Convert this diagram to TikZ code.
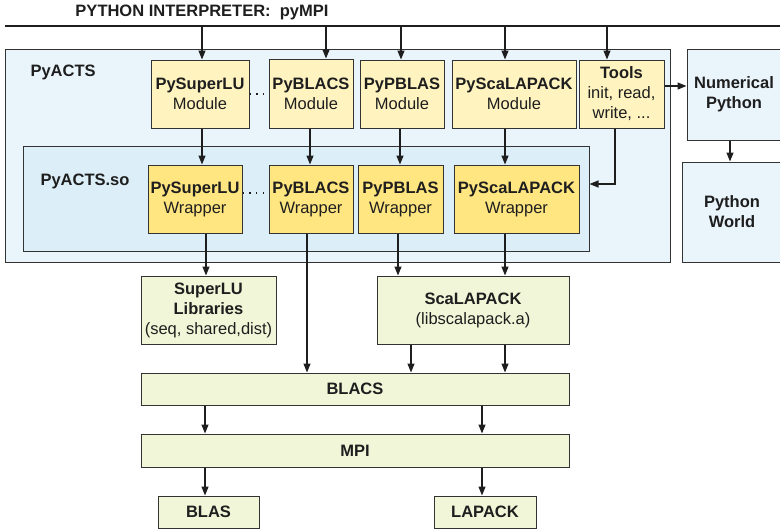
\documentclass[tikz,border=0pt]{standalone}
\usepackage{fontspec}
\setmainfont{Liberation Sans}
\usetikzlibrary{arrows.meta}
\definecolor{outerblue}{HTML}{EAF5FB}
\definecolor{innerblue}{HTML}{DCEFF8}
\definecolor{modfill}{HTML}{FFF4C0}
\definecolor{wrapfill}{HTML}{FFE680}
\definecolor{libfill}{HTML}{F1F6D8}
\definecolor{edge}{HTML}{333333}
\definecolor{txt}{HTML}{1E1E1E}
\begin{document}
\begin{tikzpicture}[x=1pt,y=-1pt,
  every node/.style={font=\fontsize{16.5}{20}\selectfont, text=txt},
  blk/.style={draw=edge, line width=1pt, inner sep=0pt, align=center},
  modbox/.style={blk, fill=modfill, minimum height=68pt},
  wrapbox/.style={blk, fill=wrapfill, minimum height=68pt},
  libbox/.style={blk, fill=libfill},
  regbox/.style={draw=edge, line width=1pt, inner sep=0pt},
  arr/.style={draw=txt, line width=1.2pt, -{Triangle[length=9pt,width=7pt]}},
  plain/.style={draw=txt, line width=1.2pt},
  dots/.style={draw=txt, line width=1.1pt, dash pattern=on 1.3pt off 5.5pt}
]
\useasboundingbox (0,0) rectangle (780,531);

% title and interpreter line
\node (title) at (202,12) {\textbf{PYTHON INTERPRETER:\ \ pyMPI}};
\coordinate (L) at (5,26);
\coordinate (R) at (782,26);
\draw[line width=1.5pt, txt] (L) -- (R);

% regions
\node[regbox, fill=outerblue, minimum width=665pt, minimum height=213pt] (pyacts) at (337.5,155.5) {};
\node[regbox, fill=innerblue, minimum width=566pt, minimum height=105pt] (pyso) at (306,198.5) {};
\node[regbox, fill=outerblue, minimum width=110pt, minimum height=91pt] (numpy) at (742,94.5) {};
\node[regbox, fill=outerblue, minimum width=115pt, minimum height=100pt] (pyworld) at (739.5,212) {};
\node (numpyt) at (734,94) [align=center] {\textbf{Numerical}\\\textbf{Python}};
\node (pyworldt) at (732,212) [align=center] {\textbf{Python}\\\textbf{World}};

\node[anchor=west] (lpy) at (27,72) {\textbf{PyACTS}};
\node[anchor=west] (lso) at (37,181) {\textbf{PyACTS.so}};

% modules
\node[modbox, minimum width=98pt] (msl) at (200,94) {\textbf{PySuperLU}\\Module};
\node[modbox, minimum width=84pt, minimum height=69pt] (mbl) at (311,93.5) {\textbf{PyBLACS}\\Module};
\node[modbox, minimum width=84pt] (mpb) at (402,94) {\textbf{PyPBLAS}\\Module};
\node[modbox, minimum width=124pt] (msc) at (514,94) {\textbf{PyScaLAPACK}\\Module};
\node[modbox, minimum width=85pt] (tools) at (621.5,94) {\textbf{Tools}\\init, read,\\write, ...};

% wrappers
\node[wrapbox, minimum width=94pt] (wsl) at (195,199) {\textbf{PySuperLU}\\Wrapper};
\node[wrapbox, minimum width=84pt] (wbl) at (311,199) {\textbf{PyBLACS}\\Wrapper};
\node[wrapbox, minimum width=85pt] (wpb) at (400.5,199) {\textbf{PyPBLAS}\\Wrapper};
\node[wrapbox, minimum width=125pt] (wsc) at (516.5,199) {\textbf{PyScaLAPACK}\\Wrapper};

% libraries
\node[libbox, minimum width=135pt, minimum height=68pt] (slu) at (208.5,310) {\textbf{SuperLU}\\\textbf{Libraries}\\(seq, shared,dist)};
\node[libbox, minimum width=192pt, minimum height=68pt] (sca) at (473,310) {\textbf{ScaLAPACK}\\(libscalapack.a)};
\node[libbox, minimum width=428pt, minimum height=32pt] (blacs) at (355,389) {\textbf{BLACS}};
\node[libbox, minimum width=428pt, minimum height=33pt] (mpi) at (355,450.5) {\textbf{MPI}};
\node[libbox, minimum width=101pt, minimum height=32pt] (blas) at (208.5,512) {\textbf{BLAS}};
\node[libbox, minimum width=102pt, minimum height=32pt] (lapack) at (485,512) {\textbf{LAPACK}};

% x positions
\coordinate (x202) at (202,26);
\coordinate (x326) at (326,26);
\coordinate (x401) at (401,26);
\coordinate (x505) at (505,26);
\coordinate (x607) at (607,26);
\coordinate (x310) at (310,0);
\coordinate (x400) at (400,0);
\coordinate (x615) at (615,0);
\coordinate (x206) at (206,0);
\coordinate (x307) at (307,0);
\coordinate (x398) at (398,0);
\coordinate (x411) at (411,0);
\coordinate (x205) at (205,0);
\coordinate (x482) at (482,0);
\coordinate (x730) at (730,0);
\coordinate (y86) at (0,86);
\coordinate (y94) at (0,94);
\coordinate (y184) at (0,184);
\coordinate (y193) at (0,193);

% interpreter to modules
\draw[arr] (x202) -- (x202 |- msl.north);
\draw[arr] (x326) -- (x326 |- mbl.north);
\draw[arr] (x401) -- (x401 |- mpb.north);
\draw[arr] (x505) -- (x505 |- msc.north);
\draw[arr] (x607) -- (x607 |- tools.north);

% dotted links
\draw[dots] (msl.east |- y94) -- (mbl.west |- y94);
\draw[dots] (wsl.east |- y193) -- (wbl.west |- y193);

% modules to wrappers
\draw[arr] (x202 |- msl.south) -- (x202 |- wsl.north);
\draw[arr] (x310 |- mbl.south) -- (x310 |- wbl.north);
\draw[arr] (x400 |- mpb.south) -- (x400 |- wpb.north);
\draw[arr] (x505 |- msc.south) -- (x505 |- wsc.north);

% tools links
\draw[arr] (tools.east |- y86) -- (numpy.west |- y86);
\draw[arr] (x615 |- tools.south) |- (pyso.east |- y184);
\draw[arr] (x730 |- numpy.south) -- (x730 |- pyworld.north);

% wrappers to libraries
\draw[arr] (x206 |- wsl.south) -- (x206 |- slu.north);
\draw[arr] (x307 |- wbl.south) -- (x307 |- blacs.north);
\draw[arr] (x398 |- wpb.south) -- (x398 |- sca.north);
\draw[arr] (x505 |- wsc.south) -- (x505 |- sca.north);

% library stack
\draw[arr] (x411 |- sca.south) -- (x411 |- blacs.north);
\draw[arr] (x505 |- sca.south) -- (x505 |- blacs.north);
\draw[arr] (x205 |- blacs.south) -- (x205 |- mpi.north);
\draw[arr] (x482 |- blacs.south) -- (x482 |- mpi.north);
\draw[arr] (x205 |- mpi.south) -- (x205 |- blas.north);
\draw[arr] (x482 |- mpi.south) -- (x482 |- lapack.north);
\end{tikzpicture}
\end{document}
